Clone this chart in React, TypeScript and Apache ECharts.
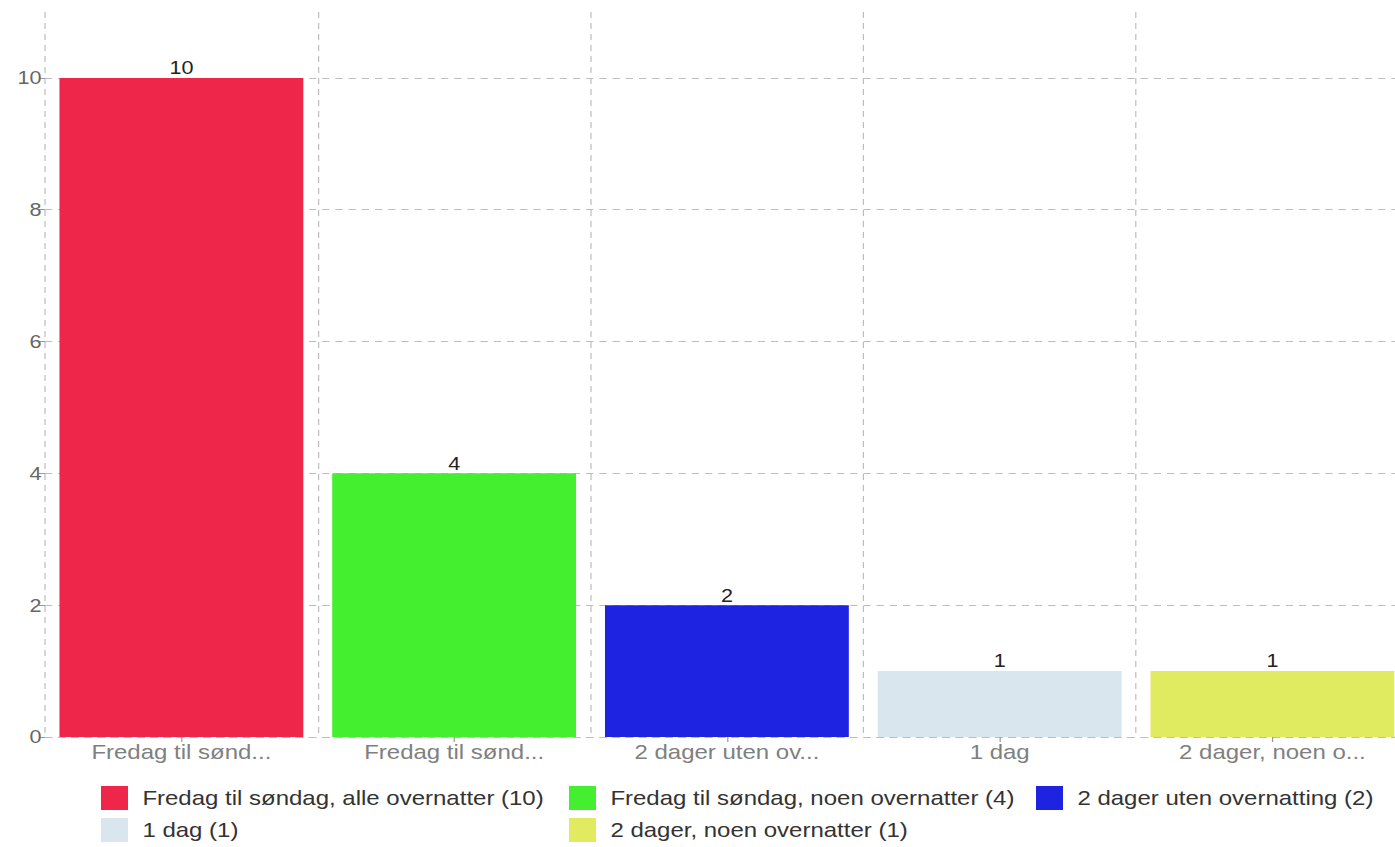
import React, { useEffect, useRef } from "react";
import * as echarts from "echarts";

const categories = [
  "Fredag til søndag, alle overnatter",
  "Fredag til søndag, noen overnatter",
  "2 dager uten overnatting",
  "1 dag",
  "2 dager, noen overnatter",
];
const values = [10, 4, 2, 1, 1];
const colors = ["#EE2649", "#43EF2E", "#1D23E0", "#D9E6EE", "#E0EB5F"];
const yTicks = [0, 2, 4, 6, 8, 10];
const legendColumns = [[0, 3], [1, 4], [2]];

// The reference is stretched horizontally; we render narrower and scale in X.
const SX = 1.2;
const legendLefts = [101 / SX, 569 / SX, 1036 / SX];

const FONT = "'Liberation Sans', Arial, Helvetica, sans-serif";
const GRID = "#bdbdbd";

export default function App() {
  const ref = useRef<HTMLDivElement>(null);
  useEffect(() => {
    if (!ref.current) return;
    const chart = echarts.init(ref.current, undefined, { renderer: "svg" });
    const names = categories.map((c, i) => `${c} (${values[i]})`);
    const series = categories.map((c, i) => ({
      name: names[i],
      type: "bar",
      stack: "all",
      barCategoryGap: "10.6%",
      itemStyle: { color: colors[i] },
      data: values.map((v, j) => (j === i ? v : "-")),
      label: {
        show: true,
        position: "top",
        distance: 1,
        color: "#222",
        fontSize: 18,
        fontFamily: FONT,
      },
    }));
    const legends = legendColumns.map((col, k) => ({
      orient: "vertical",
      left: legendLefts[k],
      top: 786,
      itemWidth: 27 / SX,
      itemHeight: 24,
      itemGap: 8,
      icon: "rect",
      padding: 0,
      data: col.map((i) => names[i]),
      textStyle: { color: "#333", fontSize: 20, fontFamily: FONT, padding: [0, 0, 0, 7] },
    }));
    chart.setOption({
      animation: false,
      textStyle: { fontFamily: FONT },
      grid: { left: 45 / SX, right: 0, top: 12, bottom: 110, containLabel: false },
      legend: legends,
      xAxis: {
        type: "category",
        data: categories,
        axisLine: { show: true, lineStyle: { color: GRID, type: [6, 5], width: 1 } },
        axisTick: { show: true, alignWithLabel: true, length: 5, lineStyle: { color: "#999" } },
        axisLabel: {
          color: "#808080",
          fontSize: 20,
          margin: 5,
          fontFamily: FONT,
          formatter: (s: string) => (s.length > 15 ? s.slice(0, 15) + "..." : s),
        },
        splitLine: { show: true, lineStyle: { color: GRID, type: [6, 5], width: 1 } },
      },
      yAxis: {
        type: "value",
        min: 0,
        max: 11,
        interval: 2,
        axisLine: { show: false },
        axisTick: { show: true, length: 5, lineStyle: { color: "#999" } },
        axisLabel: {
          color: "#666",
          fontSize: 18,
          margin: 3,
          fontFamily: FONT,
          showMaxLabel: false,
          formatter: (v: number) => (yTicks.includes(v) ? String(v) : ""),
        },
        splitLine: {
          show: true,
          showMinLine: false,
          showMaxLine: false,
          lineStyle: { color: GRID, type: [6, 5], width: 1 },
        },
      },
      series,
    });
    return () => chart.dispose();
  }, []);
  return (
    <div
      style={{ position: "fixed", left: 0, top: 0, width: 1395, height: 847, overflow: "hidden", background: "#fff" }}
    >
      <div
        ref={ref}
        style={{
          width: Math.round(1409 / SX),
          height: 847,
          transform: `scaleX(${SX})`,
          transformOrigin: "left top",
        }}
      />
    </div>
  );
}
